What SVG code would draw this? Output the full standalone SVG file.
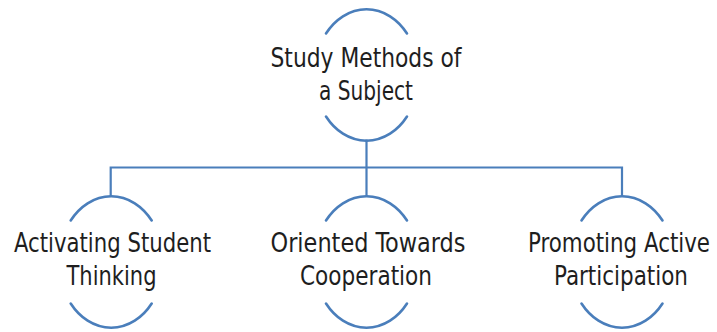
<svg xmlns="http://www.w3.org/2000/svg" width="717" height="332" viewBox="0 0 717 332">
<style>
.arc{fill:none;stroke:#4a7ebb;stroke-width:2.6;stroke-linecap:round}
.con{fill:none;stroke:#4a7ebb;stroke-width:2.2}
.lbl{font-family:"Liberation Sans Narrow","DejaVu Sans Condensed","Liberation Sans",Arial,sans-serif;font-size:26px;fill:#1e1e1e;text-anchor:middle}
</style>
<rect width="717" height="332" fill="#ffffff"/>
<g id="connectors">
<path class="con" d="M366.5 139.5 V167.5 M110.7 167.5 H622 M110.7 166.5 V196 M366.5 167.5 V196 M622 166.5 V196"/>
</g>
<g id="node-root">
<path class="arc" d="M326 33.5 A52 65 0 0 1 407 33.5"/>
<path class="arc" d="M326 116.5 A52 65 0 0 0 407 116.5"/>
<text class="lbl" x="366" y="66.5" textLength="191" lengthAdjust="spacingAndGlyphs">Study Methods of</text>
<text class="lbl" x="366" y="99.5" textLength="94" lengthAdjust="spacingAndGlyphs">a Subject</text>
</g>
<g id="node-activating">
<path class="arc" d="M70.7 220.5 A52 65 0 0 1 151.7 220.5"/>
<path class="arc" d="M70.7 303.5 A52 65 0 0 0 151.7 303.5"/>
<text class="lbl" x="112.5" y="252" textLength="197" lengthAdjust="spacingAndGlyphs">Activating Student</text>
<text class="lbl" x="111.5" y="285" textLength="90" lengthAdjust="spacingAndGlyphs">Thinking</text>
</g>
<g id="node-cooperation">
<path class="arc" d="M326 220.5 A52 65 0 0 1 407 220.5"/>
<path class="arc" d="M326 303.5 A52 65 0 0 0 407 303.5"/>
<text class="lbl" x="368" y="252" textLength="195" lengthAdjust="spacingAndGlyphs">Oriented Towards</text>
<text class="lbl" x="366" y="285" textLength="132" lengthAdjust="spacingAndGlyphs">Cooperation</text>
</g>
<g id="node-promoting">
<path class="arc" d="M581.5 220.5 A52 65 0 0 1 662.5 220.5"/>
<path class="arc" d="M581.5 303.5 A52 65 0 0 0 662.5 303.5"/>
<text class="lbl" x="619" y="252" textLength="182" lengthAdjust="spacingAndGlyphs">Promoting Active</text>
<text class="lbl" x="621" y="285" textLength="134" lengthAdjust="spacingAndGlyphs">Participation</text>
</g>
</svg>
